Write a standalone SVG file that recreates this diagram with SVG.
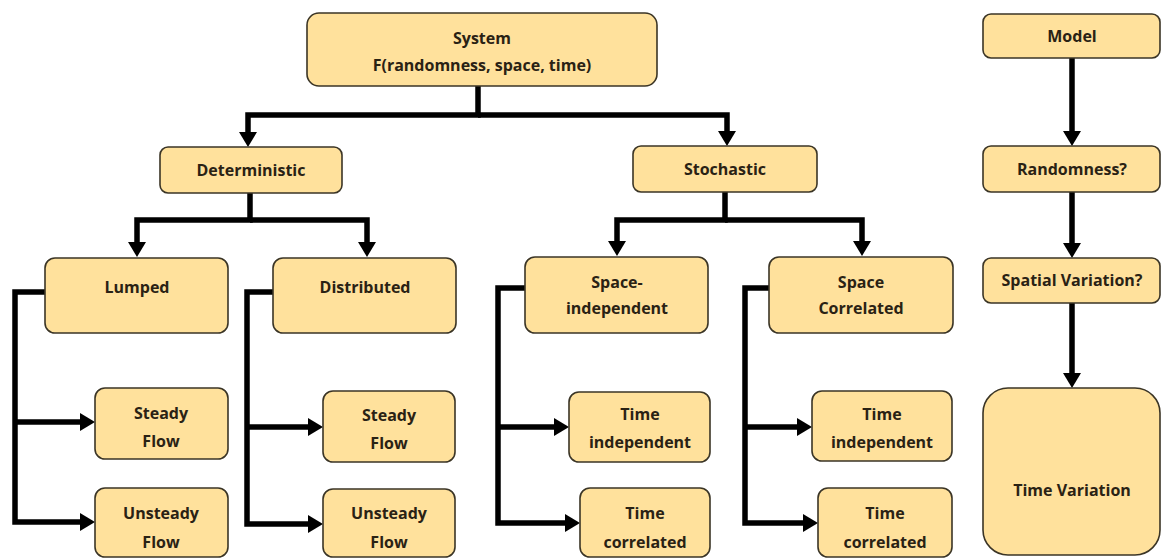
<svg xmlns="http://www.w3.org/2000/svg" width="1162" height="558" viewBox="0 0 1162 558">
<defs>
<style>
.n rect{fill:#FFE19C;stroke:#3b3526;stroke-width:1.6}
.n text{font-family:"Open Sans","Liberation Sans",sans-serif;font-weight:bold;font-size:16px;fill:#2a2214;text-anchor:middle}
.c path{fill:none;stroke:#000;stroke-width:5.5;stroke-linejoin:miter}
</style>
<marker id="ah" markerUnits="userSpaceOnUse" markerWidth="18" markerHeight="18" refX="4" refY="9" orient="auto">
<path d="M0,0 L15,9 L0,18 z" fill="#000"/>
</marker>
</defs>
<rect width="1162" height="558" fill="#fff"/>
<g class="c">
<path d="M478,86 V115 H248 V136" marker-end="url(#ah)"/>
<path d="M478,115 H727 V135" marker-end="url(#ah)"/>
<path d="M250,193 V220 H137 V246" marker-end="url(#ah)"/>
<path d="M250,220 H367 V246" marker-end="url(#ah)"/>
<path d="M725,192 V220 H617 V245" marker-end="url(#ah)"/>
<path d="M725,220 H862 V245" marker-end="url(#ah)"/>
<path d="M45,292 H15 V522 H84" marker-end="url(#ah)"/>
<path d="M15,422 H84" marker-end="url(#ah)"/>
<path d="M273,292 H247 V524 H312" marker-end="url(#ah)"/>
<path d="M247,427 H312" marker-end="url(#ah)"/>
<path d="M525,288 H498 V523 H569" marker-end="url(#ah)"/>
<path d="M498,427 H558" marker-end="url(#ah)"/>
<path d="M769,288 H745 V523 H807" marker-end="url(#ah)"/>
<path d="M745,427 H801" marker-end="url(#ah)"/>
<path d="M1072,58 V135" marker-end="url(#ah)"/>
<path d="M1072,192 V247" marker-end="url(#ah)"/>
<path d="M1072,303 V377" marker-end="url(#ah)"/>
</g>
<g id="system" class="n"><rect x="307" y="13" width="350" height="73" rx="12"/><text x="482" y="44">System</text><text x="482" y="71">F(randomness, space, time)</text></g>
<g id="deterministic" class="n"><rect x="160" y="147" width="182" height="46" rx="8"/><text x="251" y="176">Deterministic</text></g>
<g id="stochastic" class="n"><rect x="633" y="146" width="184" height="46" rx="8"/><text x="725" y="175">Stochastic</text></g>
<g id="lumped" class="n"><rect x="45" y="258" width="183" height="75" rx="10"/><text x="137" y="293">Lumped</text></g>
<g id="distributed" class="n"><rect x="273" y="258" width="183" height="75" rx="10"/><text x="365" y="293">Distributed</text></g>
<g id="space-independent" class="n"><rect x="525" y="257" width="183" height="76" rx="10"/><text x="617" y="288">Space-</text><text x="617" y="314">independent</text></g>
<g id="space-correlated" class="n"><rect x="769" y="257" width="184" height="76" rx="10"/><text x="861" y="288">Space</text><text x="861" y="314">Correlated</text></g>
<g id="steady1" class="n"><rect x="95" y="388" width="133" height="71" rx="10"/><text x="161" y="419">Steady</text><text x="161" y="447">Flow</text></g>
<g id="unsteady1" class="n"><rect x="95" y="488" width="133" height="69" rx="10"/><text x="161" y="519">Unsteady</text><text x="161" y="548">Flow</text></g>
<g id="steady2" class="n"><rect x="323" y="391" width="132" height="71" rx="10"/><text x="389" y="421">Steady</text><text x="389" y="449">Flow</text></g>
<g id="unsteady2" class="n"><rect x="323" y="489" width="132" height="68" rx="10"/><text x="389" y="519">Unsteady</text><text x="389" y="548">Flow</text></g>
<g id="time-independent1" class="n"><rect x="569" y="392" width="141" height="70" rx="10"/><text x="640" y="420">Time</text><text x="640" y="448">independent</text></g>
<g id="time-correlated1" class="n"><rect x="580" y="488" width="130" height="69" rx="10"/><text x="645" y="519">Time</text><text x="645" y="548">correlated</text></g>
<g id="time-independent2" class="n"><rect x="812" y="391" width="140" height="70" rx="10"/><text x="882" y="420">Time</text><text x="882" y="448">independent</text></g>
<g id="time-correlated2" class="n"><rect x="818" y="488" width="134" height="69" rx="10"/><text x="885" y="519">Time</text><text x="885" y="548">correlated</text></g>
<g id="model" class="n"><rect x="983" y="14" width="177" height="44" rx="8"/><text x="1072" y="42">Model</text></g>
<g id="randomness" class="n"><rect x="983" y="146" width="177" height="46" rx="8"/><text x="1072" y="175">Randomness?</text></g>
<g id="spatial" class="n"><rect x="983" y="258" width="177" height="45" rx="8"/><text x="1072" y="286">Spatial Variation?</text></g>
<g id="time-variation" class="n"><rect x="983" y="388" width="177" height="167" rx="25"/><text x="1072" y="496">Time Variation</text></g>
</svg>
